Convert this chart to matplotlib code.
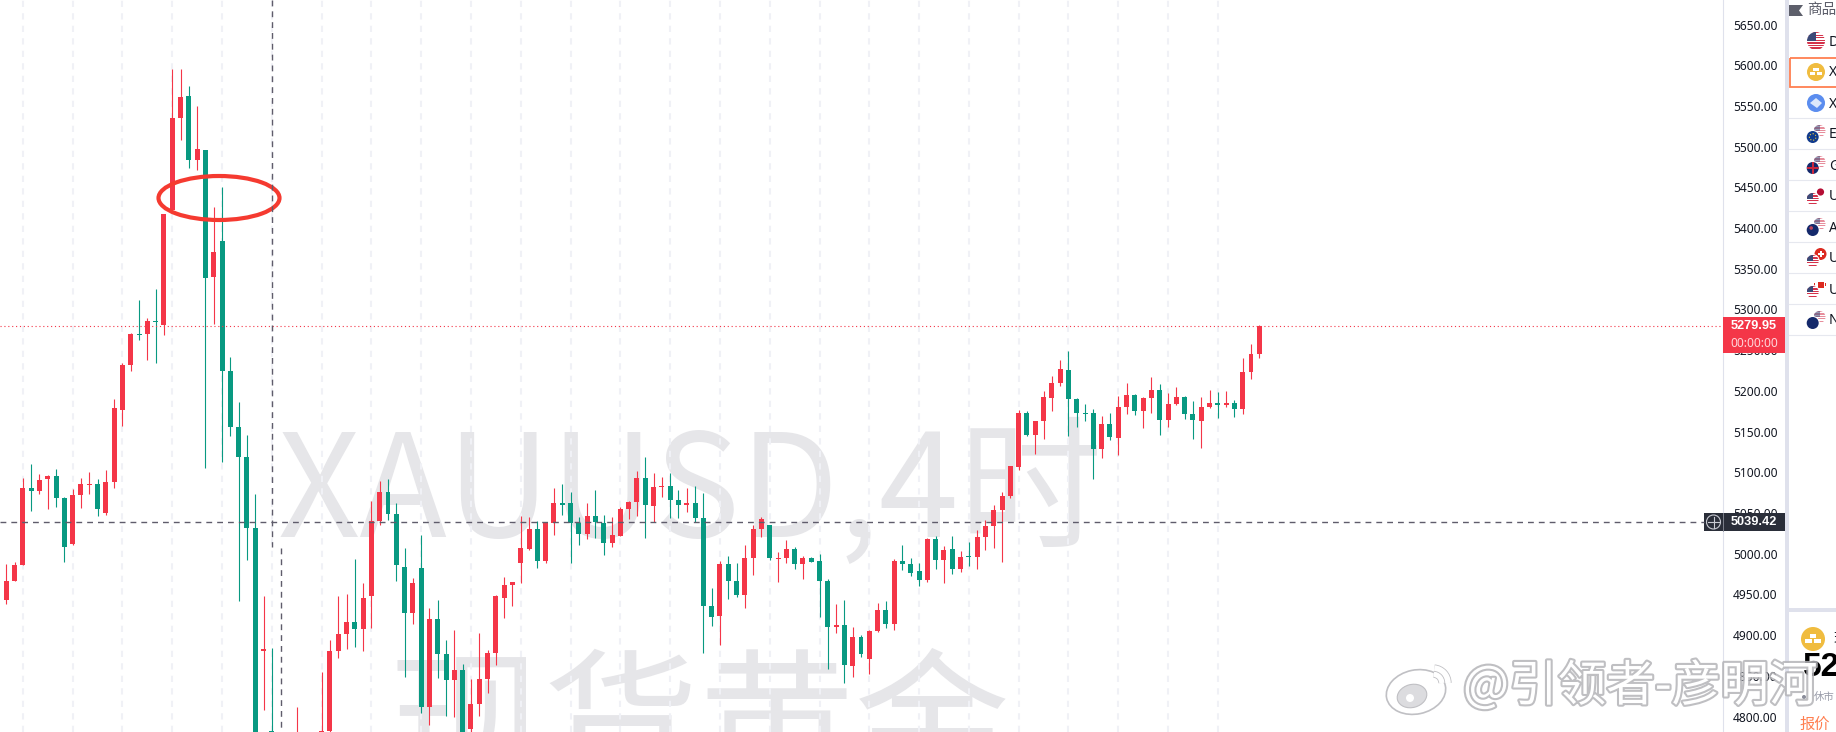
import matplotlib
matplotlib.use('Agg')
from matplotlib import pyplot as plt
from matplotlib.patches import Circle, Ellipse, Rectangle, Polygon, Arc
import matplotlib.patheffects as pe

plt.rcParams['font.family'] = ['Noto Sans CJK SC', 'DejaVu Sans']

# 4h candles (a few around index 34-39 are below the frame)
opens = [4930,
    4943, 4966, 4986, 5081, 5077, 5092, 5095, 5068, 5012,
    5072, 5084, 5086, 5050, 5088, 5176, 5232, 5270, 5270, 5286,
    5281, 5422, 5535, 5562, 5484, 5496, 5340, 5384, 5224, 5156,
    5119, 5031, 4880, 4782, 4765, 4745, 4725, 4770, 4750, 4740,
    4782, 4880, 4901, 4916, 4907, 4948, 5040, 5076, 5049, 4984,
    4927, 4982, 4812, 4920, 4877, 4845, 4857, 4785, 4815, 4846,
    4878, 4946, 4962, 4989, 5006, 5030, 4991, 5038, 5062, 5062,
    5038, 5024, 5046, 5038, 5013, 5022, 5055, 5064, 5093, 5059,
    5082, 5083, 5066, 5060, 5062, 5044, 4936, 4923, 4987, 4966,
    4949, 4995, 5030, 5035, 4994, 4995, 5006, 4987, 4995, 4991,
    4966, 4910, 4912, 4862, 4898, 4871, 4905, 4931, 4914, 4991,
    4987, 4979, 4968, 5018, 4992, 5006, 4981, 4997, 4996, 5021,
    5034, 5054, 5071, 5107, 5173, 5146, 5163, 5191, 5210, 5226,
    5190, 5173, 5173, 5129, 5159, 5142, 5180, 5195, 5175, 5191,
    5201, 5164, 5184, 5193, 5172, 5163, 5180, 5185, 5183, 5185,
    5178, 5223, 5245]
closes = [4944,
    4966, 4986, 5081, 5077, 5091, 5095, 5068, 5008, 5072,
    5086, 5086, 5055, 5088, 5179, 5232, 5270, 5269, 5286, 5285,
    5417, 5535, 5561, 5484, 5497, 5339, 5371, 5224, 5156, 5119,
    5031, 4770, 4883, 4770, 4745, 4730, 4770, 4750, 4740, 4782,
    4880, 4901, 4916, 4907, 4946, 5040, 5076, 5049, 4986, 4927,
    4964, 4812, 4920, 4877, 4845, 4857, 4772, 4815, 4846, 4878,
    4948, 4962, 4965, 5007, 5030, 4991, 5038, 5062, 5060, 5038,
    5024, 5046, 5039, 5013, 5023, 5055, 5064, 5093, 5060, 5082,
    5083, 5066, 5060, 5062, 5044, 4936, 4922, 4987, 4966, 4949,
    4995, 5030, 5043, 4995, 4995, 5006, 4987, 4995, 4990, 4966,
    4910, 4912, 4863, 4898, 4877, 4905, 4931, 4914, 4991, 4987,
    4976, 4968, 5018, 4992, 5005, 4981, 4996, 4996, 5021, 5034,
    5054, 5071, 5108, 5173, 5146, 5163, 5193, 5210, 5227, 5190,
    5173, 5172, 5129, 5159, 5143, 5180, 5195, 5175, 5191, 5201,
    5164, 5184, 5193, 5172, 5164, 5180, 5185, 5183, 5185, 5178,
    5223, 5245, 5279.95]
highs = [4944,
    4987, 4990, 5093, 5110, 5098, 5097, 5104, 5070, 5079,
    5093, 5100, 5092, 5103, 5190, 5234, 5271, 5312, 5290, 5325,
    5417, 5595, 5595, 5575, 5550, 5496, 5426, 5450, 5242, 5186,
    5146, 5073, 4948, 4884, 4770, 4760, 4812, 4775, 4772, 4855,
    4894, 4948, 4950, 4994, 4964, 5065, 5089, 5092, 5062, 5007,
    4970, 5023, 4933, 4943, 4894, 4906, 4865, 4846, 4903, 4882,
    4949, 4971, 4965, 5046, 5045, 5040, 5038, 5081, 5086, 5076,
    5045, 5062, 5078, 5048, 5045, 5057, 5065, 5102, 5119, 5099,
    5094, 5099, 5078, 5081, 5083, 5075, 4958, 4991, 4997, 4989,
    5011, 5035, 5045, 5035, 5002, 5017, 5008, 4997, 4996, 5000,
    4969, 4938, 4943, 4910, 4900, 4906, 4939, 4942, 4994, 5011,
    4995, 4989, 5019, 5022, 5009, 5022, 5003, 5014, 5029, 5041,
    5060, 5076, 5108, 5177, 5175, 5163, 5200, 5218, 5238, 5249,
    5191, 5184, 5178, 5169, 5173, 5194, 5210, 5196, 5193, 5217,
    5208, 5197, 5205, 5194, 5188, 5193, 5201, 5199, 5200, 5189,
    5240, 5258, 5280.5]
lows = [4930,
    4938, 4966, 4986, 5052, 5073, 5055, 5057, 4990, 5011,
    5056, 5073, 5046, 5048, 5081, 5157, 5224, 5262, 5238, 5234,
    5269, 5422, 5508, 5474, 5471, 5105, 5282, 5113, 5145, 4942,
    4992, 4770, 4808, 4760, 4735, 4720, 4715, 4740, 4730, 4735,
    4780, 4872, 4883, 4885, 4880, 4909, 5035, 5041, 4966, 4848,
    4914, 4804, 4790, 4847, 4801, 4799, 4765, 4779, 4801, 4829,
    4863, 4921, 4936, 4964, 5005, 4982, 4989, 5023, 5048, 4989,
    5011, 5018, 5019, 4998, 5008, 5022, 5043, 5046, 5019, 5039,
    5070, 5044, 5044, 5051, 5039, 4878, 4911, 4888, 4944, 4947,
    4933, 4974, 5021, 4992, 4965, 4989, 4981, 4969, 4990, 4922,
    4858, 4903, 4841, 4849, 4873, 4852, 4904, 4909, 4906, 4980,
    4973, 4960, 4965, 4981, 4964, 4975, 4978, 4985, 4981, 5005,
    5007, 4990, 5068, 5103, 5145, 5122, 5141, 5175, 5206, 5145,
    5156, 5163, 5092, 5118, 5140, 5121, 5172, 5170, 5154, 5173,
    5146, 5156, 5183, 5165, 5141, 5130, 5179, 5167, 5180, 5168,
    5172, 5215, 5240]

price_ticks = [5650, 5600, 5550, 5500, 5450, 5400, 5350, 5300, 5250, 5200, 5150,
               5100, 5050, 5000, 4950, 4900, 4850, 4800]
grid_bars = list(range(3, 148, 6))
last_price = 5279.95
cross_price = 5039.42
list_letters = ['D', 'X', 'X', 'E', 'G', 'U', 'A', 'U', 'U', 'N']

RED = '#f43648'
GREEN = '#089981'
INK = '#5f5c6b'
W, H = 1836, 732
PLOT_R = 1723
LATIN = ['Noto Sans', 'DejaVu Sans']
BOLD = ['Liberation Sans', 'DejaVu Sans']

fig = plt.figure(figsize=(W / 100, H / 100), dpi=100, facecolor='white')
ax = fig.add_axes([0, 0, PLOT_R / W, 1])
ax.set_xlim(2 / 8.298, (PLOT_R + 2) / 8.298)
ax.set_ylim(4781, 5680.1)

# big symbol watermark
ax.text(0.4005, 0.2664, 'XAUUSD,4时', transform=ax.transAxes, ha='center', va='baseline',
        fontsize=103.5, color='#e6e6e9', zorder=0)
ax.text(0.406, -0.064, '现货黄金', transform=ax.transAxes, ha='center', va='baseline',
        fontsize=112, color='#e6e6e9', zorder=0, clip_on=True)

for b in grid_bars:
    ax.axvline(b, color='#f0f1f6', lw=1.5, dashes=(3, 3), zorder=1)

bars = list(range(len(opens)))
cols = [RED if c >= o else GREEN for o, c in zip(opens, closes)]
ax.vlines(bars, lows, highs, colors=cols, lw=0.8, zorder=3)
ax.bar(bars, [abs(c - o) for o, c in zip(opens, closes)], bottom=[min(o, c) for o, c in zip(opens, closes)],
       width=0.6, color=cols, lw=0, zorder=4)

ax.axhline(last_price, color=RED, lw=0.8, dashes=(1, 2.5), zorder=5)

ax.yaxis.tick_right()
ax.set_yticks(price_ticks)
ax.set_yticklabels([f'{p:.2f}' for p in price_ticks], fontsize=8.6, color='#131722', family=LATIN)
ax.tick_params(axis='y', length=0, pad=7.2)
ax.set_xticks([])
for s in ['top', 'left', 'bottom']:
    ax.spines[s].set_visible(False)
ax.spines['right'].set_color('#dfe1ec')
ax.spines['right'].set_linewidth(0.8)

# overlay in pixel coordinates for the terminal chrome
ov = fig.add_axes([0, 0, 1, 1], zorder=5)
ov.set_xlim(0, W)
ov.set_ylim(H, 0)
ov.axis('off')
ov.patch.set_alpha(0)

ov.plot([271.5, 271.5], [0, 547], color=INK, lw=1, dashes=(4.2, 3.6))
ov.plot([280.5, 280.5], [548, H], color=INK, lw=1, dashes=(4.2, 3.6))
ov.plot([0, 1704], [522, 522], color=INK, lw=1, dashes=(4.2, 3.6))
ov.add_patch(Ellipse((219, 198), 121, 44, fill=False, ec='#f53a30', lw=3))

# price tags
ov.add_patch(Rectangle((1723, 317), 62, 36, color=RED, lw=0))
ov.text(1754, 326, f'{last_price:.2f}', color='white', fontsize=9.2, ha='center', va='center', family=BOLD, weight='bold')
ov.text(1754, 343.5, '00:00:00', color='#ffd5da', fontsize=8.6, ha='center', va='center', family=LATIN)
ov.add_patch(Rectangle((1704, 513), 81, 18, color='#2a2e39', lw=0))
ov.text(1754, 522, f'{cross_price:.2f}', color='white', fontsize=9.2, ha='center', va='center', family=BOLD, weight='bold')
ov.add_patch(Circle((1713.5, 522), 7, fill=False, ec='#c8cad2', lw=0.8))
ov.plot([1708, 1719], [522, 522], color='#c8cad2', lw=0.8)
ov.plot([1713.5, 1713.5], [516.5, 527.5], color='#c8cad2', lw=0.8)
ov.plot([1723, 1723], [513, 531], color='#8a8d98', lw=0.6)

# right side panel
ov.add_patch(Rectangle((1785, 0), 4, H, color='#dfe1ec', lw=0))
ov.add_patch(Rectangle((1789, 608), 47, 4, color='#dfe1ec', lw=0))
ov.add_patch(Polygon([(1789, 5), (1803, 5), (1799, 10.5), (1803, 16), (1789, 16)], color='#5d5f6b', lw=0))
ov.text(1807, 10, '商品', fontsize=10.5, color='#5d5f6b', va='center', clip_on=True)
for y in [118, 149, 180, 211, 242, 273, 304, 335]:
    ov.plot([1789, W], [y, y], color='#e6e8ef', lw=0.8)
ov.add_patch(Rectangle((1790, 57.5), 48, 29, fill=False, ec='#ff7f50', lw=1.3))


def us_flag(cx, cy, r, alpha=1.0):
    clip = Circle((cx, cy), r, transform=ov.transData)
    ov.add_patch(Circle((cx, cy), r, color='white', lw=0, alpha=alpha))
    n = 7
    for k in range(n):
        rr = Rectangle((cx - r, cy - r + k * 2 * r / n), 2 * r, r / n, color='#d4324b', lw=0, alpha=alpha)
        ov.add_patch(rr)
        rr.set_clip_path(clip)
    cc = Rectangle((cx - r, cy - r), r, r, color='#3c4a78', lw=0, alpha=alpha)
    ov.add_patch(cc)
    cc.set_clip_path(clip)


def dual(cy, back, front):
    back(1819.5, cy - 3, 6)
    ov.add_patch(Circle((1812.7, cy + 3), 7, color='white', lw=0))
    front(1812.7, cy + 3, 6)


def faded_us(cx, cy, r):
    us_flag(cx, cy, r, alpha=0.55)


def navy(cx, cy, r):
    ov.add_patch(Circle((cx, cy), r, color='#14296b', lw=0))


def eu(cx, cy, r):
    ov.add_patch(Circle((cx, cy), r, color='#103a8c', lw=0))
    ov.add_patch(Circle((cx, cy), r * 0.55, fill=False, ec='#e8c840', lw=0.8, ls=':'))


def uk(cx, cy, r):
    navy(cx, cy, r)
    clip = Circle((cx, cy), r, transform=ov.transData)
    for rect in [Rectangle((cx - r, cy - 1.2), 2 * r, 2.4, color='#c9283e', lw=0),
                 Rectangle((cx - 1.2, cy - r), 2.4, 2 * r, color='#c9283e', lw=0)]:
        ov.add_patch(rect)
        rect.set_clip_path(clip)


def oz(cx, cy, r):
    navy(cx, cy, r)
    ov.add_patch(Circle((cx - 1.5, cy - 2), 1.8, color='#c0455c', lw=0))


def jp(cx, cy, r):
    ov.add_patch(Circle((cx + 1, cy - 1), r * 0.6, color='#b50e35', lw=0))


def ch(cx, cy, r):
    ov.add_patch(Circle((cx + 1, cy - 1), r, color='#dc2a20', lw=0))
    ov.add_patch(Rectangle((cx - 2, cy - 2), 6, 2, color='white', lw=0))
    ov.add_patch(Rectangle((cx, cy - 4), 2, 6, color='white', lw=0))


def ca(cx, cy, r):
    ov.add_patch(Rectangle((cx - 2, cy - 4.5), 6, 6, color='#dc2a20', lw=0))
    ov.add_patch(Rectangle((cx - 6, cy - 3), 1.5, 3, color='#dc2a20', lw=0))
    ov.add_patch(Rectangle((cx + 5, cy - 3), 1.5, 3, color='#dc2a20', lw=0))


def gold(cx, cy, r):
    ov.add_patch(Circle((cx, cy), r, color='#f0bc3f', lw=0))
    s = r / 9
    for dx, dy in [(0, -2.6), (-3.2, 1.8), (3.2, 1.8)]:
        ov.add_patch(Rectangle((cx + (dx - 2.6) * s, cy + (dy - 1.5) * s), 5.2 * s, 3 * s, color='white', lw=0))


row_y = [41, 72, 103, 134, 165, 196, 227, 258, 289, 320]
us_flag(1816, row_y[0], 9)
gold(1816, row_y[1], 9)
ov.add_patch(Circle((1816, row_y[2]), 9, color='#5b8def', lw=0))
ov.add_patch(Polygon([(1810, 103), (1816, 98), (1822, 103), (1817, 108)], color='#dce8fb', lw=0))
dual(row_y[3], faded_us, eu)
dual(row_y[4], faded_us, uk)
dual(row_y[5], jp, us_flag)
dual(row_y[6], faded_us, oz)
dual(row_y[7], ch, us_flag)
dual(row_y[8], ca, us_flag)
dual(row_y[9], faded_us, navy)
for y, s in zip(row_y, list_letters):
    ov.text(1829, y + 1, s, fontsize=10, color='#131722', va='center', clip_on=True, family=LATIN)

gold(1813, 639, 12)
ov.text(1833, 639, '现', fontsize=10, color='#131722', va='center', clip_on=True)
ov.text(1803, 668, '52', fontsize=24, color='black', weight='bold', va='center', clip_on=True, family=BOLD)
ov.text(1799, 724, '报价', fontsize=11, color='#ff7f50', va='center', clip_on=True)
ov.add_patch(Circle((1804, 697), 2, color='#8a8d9a', lw=0))
ov.text(1814, 697, '休市', fontsize=7.5, color='#9a9daa', va='center', clip_on=True)

# weibo stamp
stamp = [pe.withStroke(linewidth=3, foreground='#b4b4b8', alpha=0.85)]
ov.text(1463, 687, '@引领者-彦明河', fontsize=35, color='white', va='center', path_effects=stamp, zorder=20)
ov.add_patch(Ellipse((1416, 692), 60, 44, angle=-12, fc='white', ec='#c0c0c4', lw=1.2, zorder=20))
ov.add_patch(Ellipse((1412, 696), 30, 23, angle=-15, fc='#dcdcdf', ec='#c0c0c4', lw=0.8, zorder=21))
ov.add_patch(Circle((1410, 698), 4, fc='white', ec='none', zorder=22))
for rad in (18, 30):
    ov.add_patch(Arc((1433, 683), rad, rad, theta1=-85, theta2=0, ec='white', lw=4, zorder=20,
                     path_effects=[pe.withStroke(linewidth=5.2, foreground='#c0c0c4')]))

fig.savefig('out.png', dpi=100)
